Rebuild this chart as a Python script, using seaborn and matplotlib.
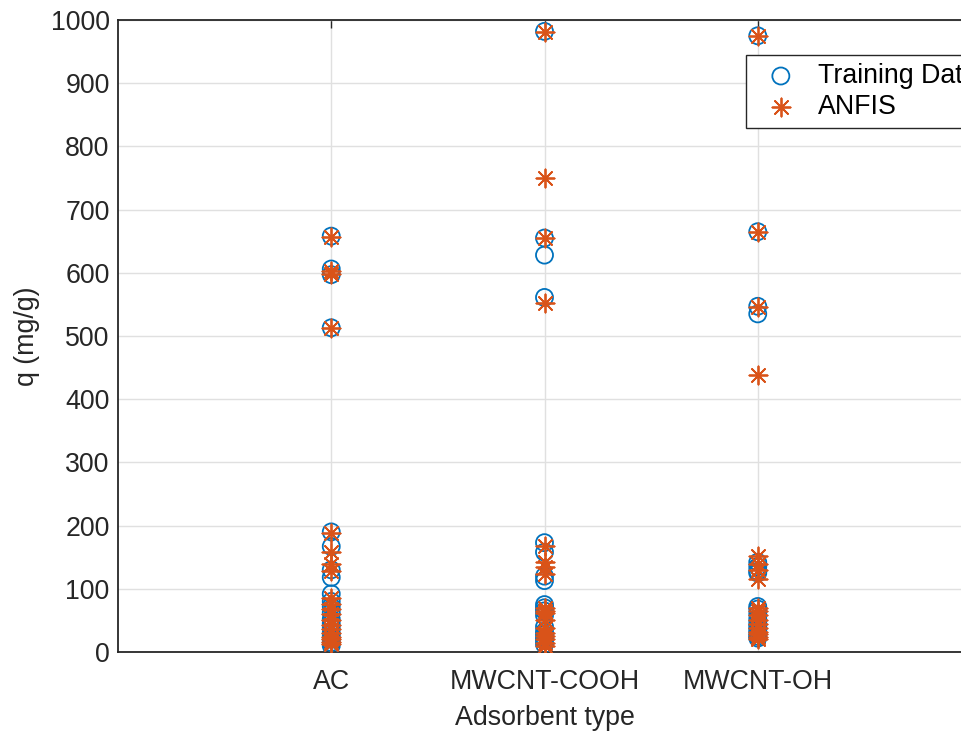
import matplotlib
matplotlib.use("Agg")
import matplotlib.pyplot as plt
import seaborn as sns
import pandas as pd

categories = ["AC", "MWCNT-COOH", "MWCNT-OH"]

ac_training = [658, 606, 597, 513, 190, 167, 130, 118, 92, 80, 72, 62, 52, 45, 38, 30, 25, 20, 15, 10]
ac_anfis = [657, 603, 598, 513, 188, 158, 140, 128, 85, 76, 68, 60, 50, 42, 36, 30, 24, 20, 16, 12]

cooh_training = [982, 655, 628, 561, 173, 158, 120, 113, 75, 70, 65, 58, 40, 32, 28, 22, 18, 12]
cooh_anfis = [981, 750, 655, 553, 168, 142, 135, 124, 70, 65, 62, 50, 38, 30, 26, 20, 15, 10]

oh_training = [975, 665, 547, 535, 142, 135, 128, 125, 72, 68, 60, 52, 45, 40, 35, 30, 25, 22]
oh_anfis = [975, 665, 546, 438, 152, 140, 130, 115, 70, 65, 58, 50, 45, 38, 32, 28, 24, 20]

yticks = [0, 100, 200, 300, 400, 500, 600, 700, 800, 900, 1000]

rows = []
for cat, tr, an in zip(categories, [ac_training, cooh_training, oh_training],
                       [ac_anfis, cooh_anfis, oh_anfis]):
    rows += [dict(cat=cat, q=v, series="Training Data") for v in tr]
    rows += [dict(cat=cat, q=v, series="ANFIS") for v in an]
df = pd.DataFrame(rows)
df["cat"] = pd.Categorical(df["cat"], categories=categories, ordered=True)

sns.set_theme(style="white")
plt.rcParams["font.family"] = ["Liberation Sans", "DejaVu Sans"]

W, H = 961, 733
fig = plt.figure(figsize=(W / 100, H / 100), dpi=100)
left, right, top, bottom = 118, 971, 20, 652
ax = fig.add_axes([left / W, 1 - bottom / H, (right - left) / W, (bottom - top) / H])

blue = "#0072BD"
orange = "#D95319"
fs = 19.3

tr = df[df.series == "Training Data"]
an = df[df.series == "ANFIS"]
sns.scatterplot(data=tr, x="cat", y="q", ax=ax, marker="o", s=150,
                facecolor="none", edgecolor=blue, linewidth=1.3,
                label="Training Data", zorder=3)
sns.scatterplot(data=an, x="cat", y="q", ax=ax, marker=(8, 2, 0), s=170,
                color=orange, edgecolor=orange, linewidth=1.3,
                label="ANFIS", zorder=4)

ax.set_xlim(-1, 3)
ax.set_ylim(0, 1000)
ax.set_yticks(yticks)
ax.set_xticks(range(len(categories)))
ax.set_xticklabels(categories)

ax.grid(True, color="#e0e0e0", linewidth=1.0)
ax.set_axisbelow(True)
for s in ax.spines.values():
    s.set_color("#262626")
    s.set_linewidth(1.3)
ax.tick_params(axis="both", direction="in", length=6, width=1.0, color="#262626",
               labelsize=fs, labelcolor="#262626", top=True, right=True)
ax.tick_params(axis="x", pad=12)
ax.tick_params(axis="y", pad=6)

ax.set_xlabel("Adsorbent type", fontsize=fs, color="#262626")
ax.set_ylabel("q (mg/g)", fontsize=fs, color="#262626")
ax.xaxis.set_label_coords(0.5, (bottom - 718) / (bottom - top))
ax.xaxis.label.set_va("center")
ax.yaxis.set_label_coords((27 - left) / (right - left), 0.5)
ax.yaxis.label.set_va("center")

leg = ax.legend(loc="upper left",
                bbox_to_anchor=((746 - left) / (right - left), (bottom - 55) / (bottom - top)),
                fontsize=fs, frameon=True, fancybox=False, framealpha=1,
                edgecolor="#262626", borderpad=0.3, handletextpad=0.4,
                labelspacing=0.2, handlelength=2.0, borderaxespad=0)
leg.get_frame().set_linewidth(1.0)
for t in leg.get_texts():
    t.set_color("black")

fig.savefig("out.png", dpi=100)
